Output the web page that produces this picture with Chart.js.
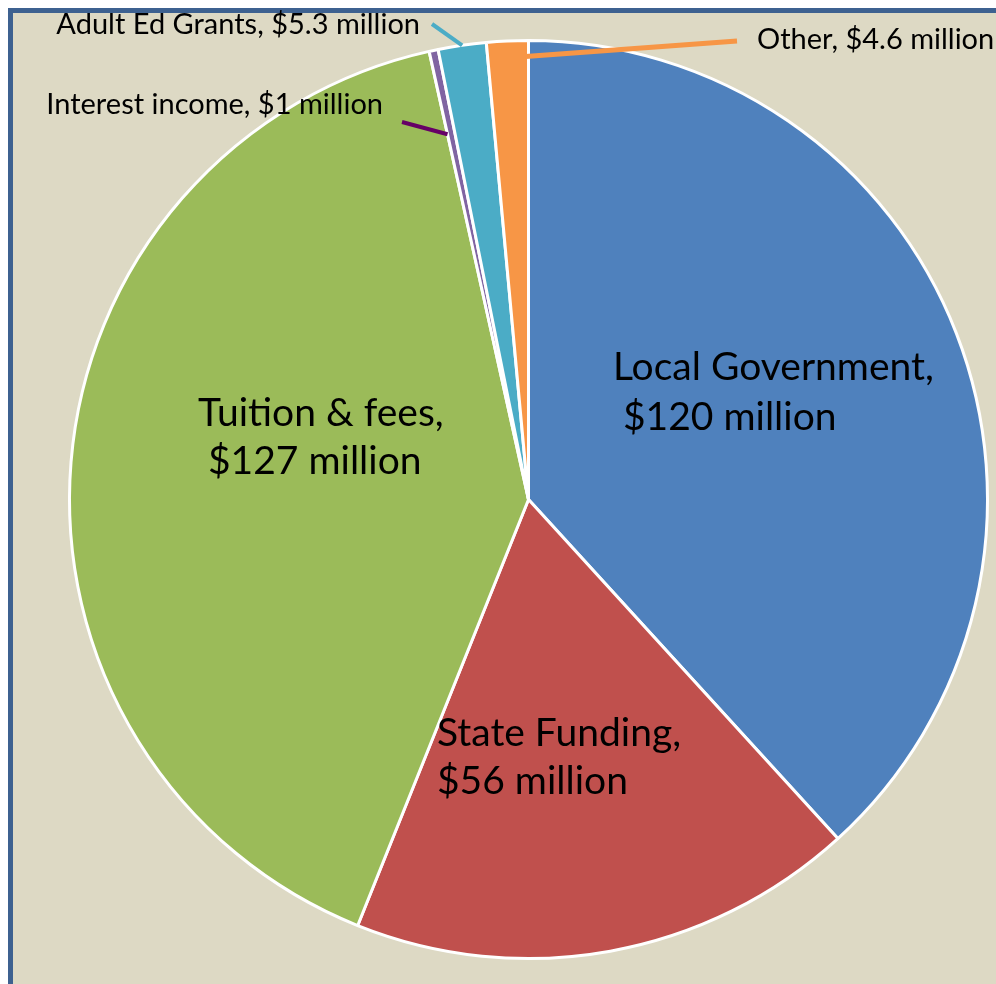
<!DOCTYPE html>
<html>
<head>
<meta charset="utf-8">
<script src="https://cdn.jsdelivr.net/npm/chart.js@4.4.1/dist/chart.umd.min.js"></script>
<style>
  html, body { margin: 0; padding: 0; background: #ffffff; overflow: hidden; }
  #frame {
    position: absolute; left: 8px; top: 8px; width: 983px; height: 971px;
    border-left: 5px solid #3d6190; border-top: 5px solid #3d6190;
    background: #ddd9c4;
  }
  #wrap { position: absolute; left: 0; top: 0; width: 996px; height: 984px; }
</style>
</head>
<body>
<div id="frame"></div>
<div id="wrap"><canvas id="revenueChart" width="996" height="984"></canvas></div>
<script>
// Revenue sources (millions of dollars), clockwise from 12 o'clock
const categories = ['Local Government', 'State Funding', 'Tuition & fees', 'Interest income', 'Adult Ed Grants', 'Other'];
const amounts = [120, 56, 127, 1, 5.3, 4.6];
const sliceColors = ['#4f81bd', '#c0504d', '#9bbb59', '#8064a2', '#4bacc6', '#f79646'];
const leaderColors = [null, null, null, '#660066', '#4bacc6', '#f79646'];

const FONT = "Lato, 'Open Sans', sans-serif";

function labelText(i) {
    return categories[i] + ', $' + amounts[i] + ' million';
}

// where each label sits; inner ones are split over two lines
const labelLayout = [
    { inside: true, x: 613, y: 380, gap: 50, lead: ' ' },
    { inside: true, x: 437, y: 746, gap: 48, lead: '' },
    { inside: true, x: 198, y: 426, gap: 48, lead: ' ' },
    { inside: false, x: 383, y: 114, align: 'right', from: [402, 122], t: 0.0, r: 0.815, lw: 4 },
    { inside: false, x: 420, y: 34, align: 'right', from: [432, 24], t: 0.5, r: 1.0, lw: 4 },
    { inside: false, x: 757, y: 49, align: 'left', from: [737, 41], t: 0.93, r: 0.965, lw: 5 }
];

const pieLabels = {
    id: 'pieLabels',
    afterDatasetsDraw(chart) {
        const ctx = chart.ctx;
        const arcs = chart.getDatasetMeta(0).data;
        ctx.save();
        ctx.fillStyle = '#000000';
        ctx.textBaseline = 'alphabetic';
        arcs.forEach((arc, i) => {
            const L = labelLayout[i];
            const p = arc.getProps(['x', 'y', 'startAngle', 'endAngle', 'outerRadius'], true);
            if (L.inside) {
                const text = labelText(i);
                const cut = text.indexOf(', ') + 1;
                ctx.font = '39px ' + FONT;
                ctx.textAlign = 'left';
                ctx.fillText(text.slice(0, cut), L.x, L.y);
                ctx.fillText(L.lead + text.slice(cut + 1), L.x, L.y + L.gap);
            } else {
                const a = p.startAngle + (p.endAngle - p.startAngle) * L.t;
                const rr = p.outerRadius * L.r;
                ctx.strokeStyle = leaderColors[i];
                ctx.lineWidth = L.lw;
                ctx.beginPath();
                ctx.moveTo(L.from[0], L.from[1]);
                ctx.lineTo(p.x + rr * Math.cos(a), p.y + rr * Math.sin(a));
                ctx.stroke();
                ctx.font = '29px ' + FONT;
                ctx.textAlign = L.align;
                ctx.fillText(labelText(i), L.x, L.y);
            }
        });
        ctx.restore();
    }
};

new Chart(document.getElementById('revenueChart'), {
    type: 'pie',
    data: {
        labels: categories,
        datasets: [{
            data: amounts,
            backgroundColor: sliceColors,
            borderColor: '#ffffff',
            borderWidth: 3
        }]
    },
    options: {
        responsive: false,
        animation: false,
        layout: { padding: { left: 68, top: 39, right: 7, bottom: 24 } },
        plugins: {
            legend: { display: false },
            tooltip: { enabled: false }
        }
    },
    plugins: [pieLabels]
});
</script>
</body>
</html>
